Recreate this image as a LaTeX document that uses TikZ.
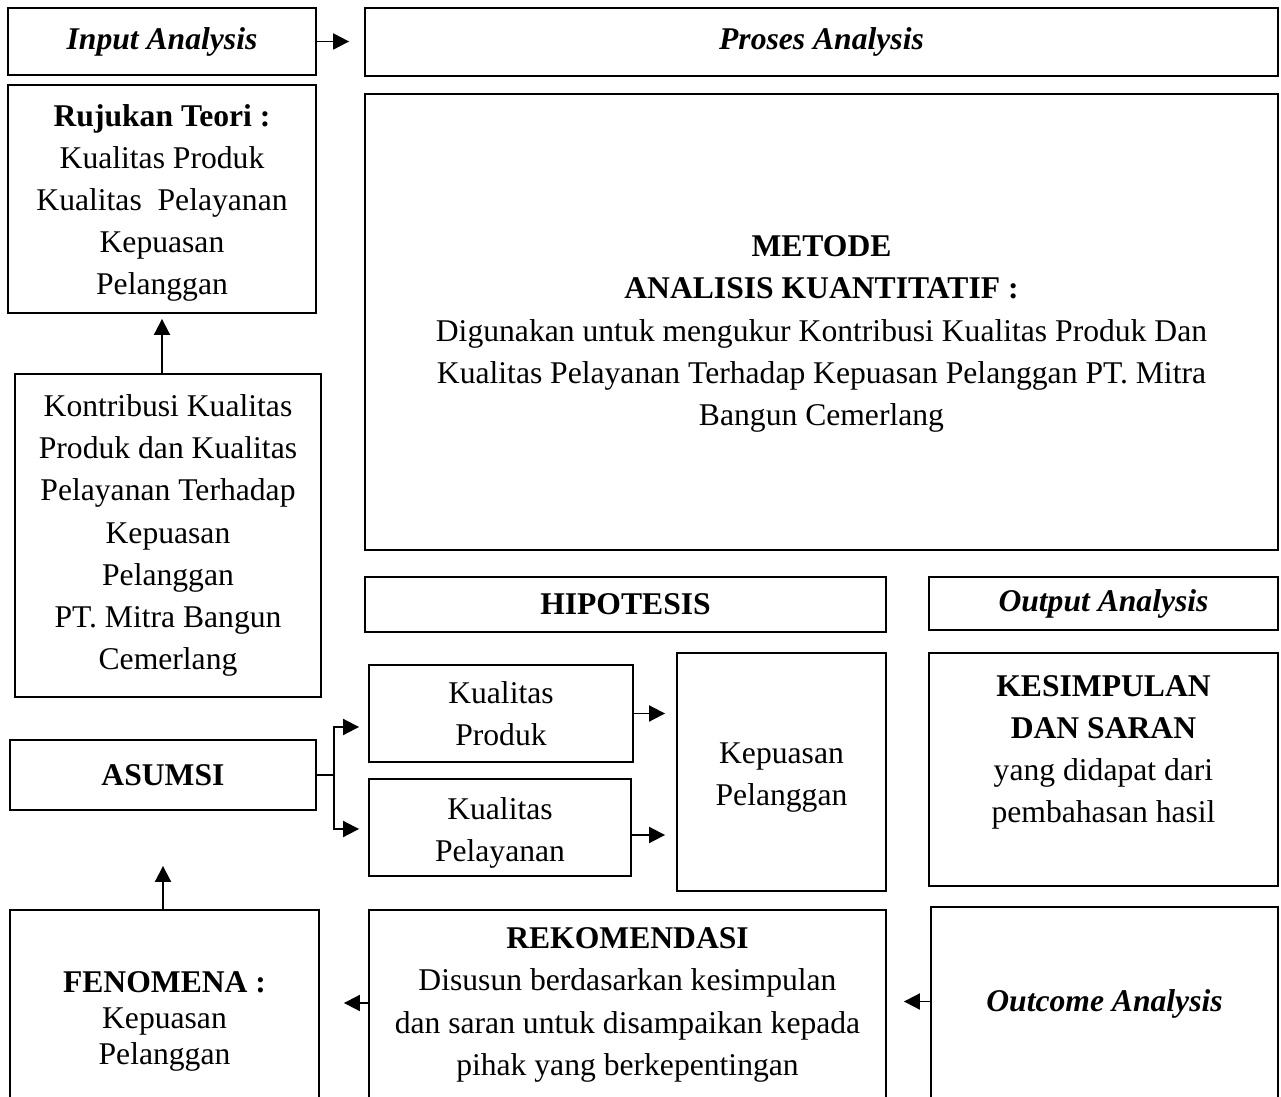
\documentclass[tikz,border=0pt]{standalone}
\usepackage{fontspec}
\setmainfont{Liberation Serif}
\usetikzlibrary{arrows.meta}
\tikzset{box/.style={draw, line width=1.1pt, align=center, inner sep=0pt, font=\fontsize{18}{24}\selectfont}}
\tikzset{arr/.style={line width=1.1pt, -{Triangle[length=3.2mm, width=3.2mm]}}}

\begin{document}
\begin{tikzpicture}[x=0.02cm, y=-0.02cm]
            \useasboundingbox (0,0) rectangle (1281,1097);
            % left column
            \node[box, minimum width=6.16cm, minimum height=1.34cm] (inp) at (162,41.5) {\textit{\textbf{Input Analysis}}};
            \node[box, minimum width=6.16cm, minimum height=4.56cm] (teori) at (162,199) {\rule{0pt}{0.6cm}\textbf{Rujukan Teori :}\\Kualitas Produk\\Kualitas~ Pelayanan\\Kepuasan\\Pelanggan};
            \node[box, minimum width=6.12cm, minimum height=6.46cm] (kontrib) at (168,535.5) {Kontribusi Kualitas\\Produk dan Kualitas\\Pelayanan Terhadap\\Kepuasan\\Pelanggan\\PT. Mitra Bangun\\Cemerlang};
            \node[box, minimum width=6.12cm, minimum height=1.4cm] (asumsi) at (163,775) {\textbf{ASUMSI}};
            \node[box, minimum width=6.18cm, minimum height=3.8cm, font=\fontsize{18}{20.5}\selectfont] (fenom) at (164.5,1005) {\rule{0pt}{1.08cm}\textbf{FENOMENA :}\\Kepuasan\\Pelanggan};
            % middle and right
            \node[box, minimum width=18.26cm, minimum height=1.36cm] (proses) at (821.5,42) {\textit{\textbf{Proses Analysis}}};
            \node[box, minimum width=18.26cm, minimum height=9.14cm] (metode) at (821.5,322) {\rule{0pt}{0.9cm}\textbf{METODE}\\\textbf{ANALISIS KUANTITATIF :}\\Digunakan untuk mengukur Kontribusi Kualitas Produk Dan\\Kualitas Pelayanan Terhadap Kepuasan Pelanggan PT. Mitra\\Bangun Cemerlang};
            \node[box, minimum width=10.42cm, minimum height=1.1cm] (hipo) at (625.5,604.5) {\textbf{HIPOTESIS}};
            \node[box, minimum width=6.98cm, minimum height=1.06cm] (outp) at (1103.5,603.5) {\textit{\textbf{Output Analysis}}};
            \node[box, minimum width=5.28cm, minimum height=1.94cm] (kprod) at (501,713.5) {Kualitas\\Produk};
            \node[box, minimum width=5.24cm, minimum height=1.94cm] (kpel) at (500,827.5) {\rule{0pt}{0.64cm}Kualitas\\Pelayanan};
            \node[box, minimum width=4.18cm, minimum height=4.76cm] (kpuas) at (781.5,772) {\rule{0pt}{0.64cm}Kepuasan\\Pelanggan};
            \node[box, minimum width=6.98cm, minimum height=4.66cm] (simpul) at (1103.5,769.5) {\textbf{KESIMPULAN}\\\textbf{DAN SARAN}\\yang didapat dari\\pembahasan hasil\\[-0.28cm]\strut};
            \node[box, minimum width=10.34cm, minimum height=3.8cm] (rekom) at (627.5,1005) {\textbf{REKOMENDASI}\\Disusun berdasarkan kesimpulan\\dan saran untuk disampaikan kepada\\pihak yang berkepentingan};
            \node[box, minimum width=6.94cm, minimum height=3.86cm] (outc) at (1104.5,1003.5) {\textit{\textbf{Outcome Analysis}}};
            % connectors
            \draw[arr, shorten >=0.3cm] (inp.east) -- (inp.east -| proses.west);
            \draw[arr, shorten >=0.1cm] (kontrib.north -| teori.south) -- (teori.south);
            \draw[arr, shorten >=1.1cm] (fenom.north -| asumsi.south) -- (asumsi.south);
            \coordinate (br) at ([xshift=0.34cm]asumsi.east);
            \draw[line width=1.1pt] (asumsi.east) -- (br);
            \draw[arr, shorten >=0.18cm] (br) |- ([yshift=-0.27cm]kprod.west);
            \draw[arr, shorten >=0.18cm] (br) |- ([yshift=-0.03cm]kpel.west);
            \draw[arr, shorten >=0.22cm] (kprod.east) -- (kprod.east -| kpuas.west);
            \draw[arr, shorten >=0.22cm] ([yshift=-0.15cm]kpel.east) -- ([yshift=-0.15cm]kpel.east -| kpuas.west);
            \draw[arr, shorten >=0.34cm] ([yshift=0.04cm]outc.west) -- ([yshift=0.04cm]outc.west -| rekom.east);
            \draw[arr, shorten >=0.48cm] ([yshift=0.04cm]rekom.west) -- ([yshift=0.04cm]rekom.west -| fenom.east);
        \end{tikzpicture}
\end{document}
